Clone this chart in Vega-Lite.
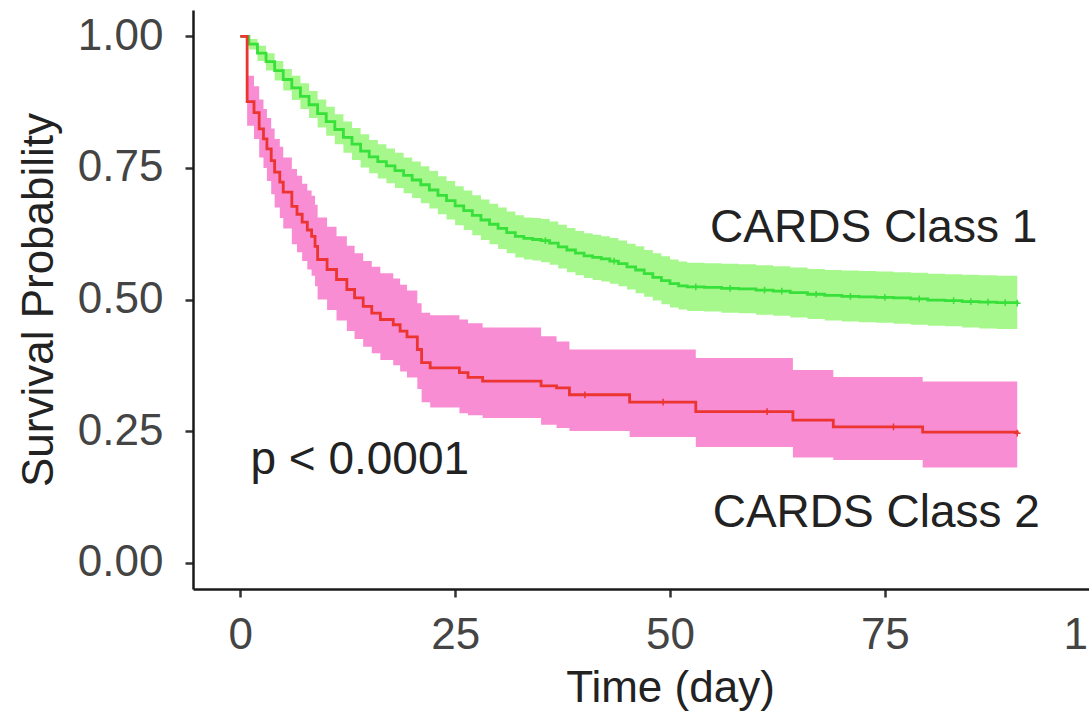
{
  "$schema": "https://vega.github.io/schema/vega-lite/v6.json",
  "width": 954,
  "height": 579,
  "autosize": {"type": "none"},
  "padding": {"left": 193, "top": 10, "right": 60, "bottom": 136},
  "background": "white",
  "config": {
    "view": {"stroke": null},
    "font": "Liberation Sans",
    "axis": {
      "grid": false,
      "domainColor": "#1a1a1a",
      "domainWidth": 2.5,
      "tickColor": "#333333",
      "tickWidth": 2.5,
      "tickSize": 8,
      "labelFont": "Liberation Sans",
      "labelFontSize": 44,
      "labelColor": "#444444",
      "titleFont": "Liberation Sans",
      "titleFontSize": 44,
      "titleFontWeight": "normal",
      "titleColor": "#222222"
    }
  },
  "datasets": {
    "km": [
      {"group": "Class 1", "t": 0, "s": 1.0, "lo": 1.0, "hi": 1.0},
      {"group": "Class 1", "t": 1, "s": 0.985, "lo": 0.975, "hi": 0.995},
      {"group": "Class 1", "t": 2, "s": 0.968, "lo": 0.953, "hi": 0.982},
      {"group": "Class 1", "t": 3, "s": 0.952, "lo": 0.935, "hi": 0.968},
      {"group": "Class 1", "t": 4, "s": 0.935, "lo": 0.916, "hi": 0.953},
      {"group": "Class 1", "t": 5, "s": 0.918, "lo": 0.897, "hi": 0.938},
      {"group": "Class 1", "t": 6, "s": 0.902, "lo": 0.879, "hi": 0.925},
      {"group": "Class 1", "t": 7, "s": 0.886, "lo": 0.862, "hi": 0.911},
      {"group": "Class 1", "t": 8, "s": 0.870, "lo": 0.845, "hi": 0.896},
      {"group": "Class 1", "t": 9, "s": 0.853, "lo": 0.827, "hi": 0.880},
      {"group": "Class 1", "t": 10, "s": 0.838, "lo": 0.811, "hi": 0.866},
      {"group": "Class 1", "t": 11, "s": 0.823, "lo": 0.795, "hi": 0.852},
      {"group": "Class 1", "t": 12, "s": 0.808, "lo": 0.779, "hi": 0.838},
      {"group": "Class 1", "t": 13, "s": 0.795, "lo": 0.765, "hi": 0.826},
      {"group": "Class 1", "t": 14, "s": 0.782, "lo": 0.751, "hi": 0.814},
      {"group": "Class 1", "t": 15, "s": 0.771, "lo": 0.740, "hi": 0.803},
      {"group": "Class 1", "t": 16, "s": 0.762, "lo": 0.730, "hi": 0.795},
      {"group": "Class 1", "t": 17, "s": 0.754, "lo": 0.721, "hi": 0.787},
      {"group": "Class 1", "t": 18, "s": 0.745, "lo": 0.712, "hi": 0.779},
      {"group": "Class 1", "t": 19, "s": 0.736, "lo": 0.702, "hi": 0.770},
      {"group": "Class 1", "t": 20, "s": 0.727, "lo": 0.693, "hi": 0.762},
      {"group": "Class 1", "t": 21, "s": 0.718, "lo": 0.683, "hi": 0.753},
      {"group": "Class 1", "t": 22, "s": 0.708, "lo": 0.673, "hi": 0.744},
      {"group": "Class 1", "t": 23, "s": 0.698, "lo": 0.662, "hi": 0.734},
      {"group": "Class 1", "t": 24, "s": 0.688, "lo": 0.652, "hi": 0.725},
      {"group": "Class 1", "t": 25, "s": 0.678, "lo": 0.641, "hi": 0.715},
      {"group": "Class 1", "t": 26, "s": 0.669, "lo": 0.632, "hi": 0.707},
      {"group": "Class 1", "t": 27, "s": 0.660, "lo": 0.622, "hi": 0.698},
      {"group": "Class 1", "t": 28, "s": 0.651, "lo": 0.613, "hi": 0.690},
      {"group": "Class 1", "t": 29, "s": 0.643, "lo": 0.605, "hi": 0.682},
      {"group": "Class 1", "t": 30, "s": 0.635, "lo": 0.596, "hi": 0.675},
      {"group": "Class 1", "t": 31, "s": 0.627, "lo": 0.588, "hi": 0.667},
      {"group": "Class 1", "t": 32, "s": 0.620, "lo": 0.580, "hi": 0.660},
      {"group": "Class 1", "t": 33, "s": 0.616, "lo": 0.576, "hi": 0.656},
      {"group": "Class 1", "t": 34, "s": 0.614, "lo": 0.574, "hi": 0.655},
      {"group": "Class 1", "t": 35, "s": 0.612, "lo": 0.571, "hi": 0.653},
      {"group": "Class 1", "t": 36, "s": 0.607, "lo": 0.566, "hi": 0.648},
      {"group": "Class 1", "t": 37, "s": 0.600, "lo": 0.559, "hi": 0.642},
      {"group": "Class 1", "t": 38, "s": 0.594, "lo": 0.552, "hi": 0.636},
      {"group": "Class 1", "t": 39, "s": 0.588, "lo": 0.546, "hi": 0.630},
      {"group": "Class 1", "t": 40, "s": 0.583, "lo": 0.541, "hi": 0.626},
      {"group": "Class 1", "t": 41, "s": 0.580, "lo": 0.537, "hi": 0.623},
      {"group": "Class 1", "t": 42, "s": 0.577, "lo": 0.534, "hi": 0.620},
      {"group": "Class 1", "t": 43, "s": 0.573, "lo": 0.530, "hi": 0.617},
      {"group": "Class 1", "t": 44, "s": 0.568, "lo": 0.525, "hi": 0.612},
      {"group": "Class 1", "t": 45, "s": 0.562, "lo": 0.519, "hi": 0.606},
      {"group": "Class 1", "t": 46, "s": 0.556, "lo": 0.512, "hi": 0.601},
      {"group": "Class 1", "t": 47, "s": 0.549, "lo": 0.505, "hi": 0.594},
      {"group": "Class 1", "t": 48, "s": 0.542, "lo": 0.498, "hi": 0.588},
      {"group": "Class 1", "t": 49, "s": 0.536, "lo": 0.491, "hi": 0.582},
      {"group": "Class 1", "t": 50, "s": 0.530, "lo": 0.485, "hi": 0.576},
      {"group": "Class 1", "t": 51, "s": 0.526, "lo": 0.481, "hi": 0.572},
      {"group": "Class 1", "t": 52, "s": 0.524, "lo": 0.478, "hi": 0.570},
      {"group": "Class 1", "t": 54, "s": 0.523, "lo": 0.477, "hi": 0.569},
      {"group": "Class 1", "t": 56, "s": 0.521, "lo": 0.475, "hi": 0.568},
      {"group": "Class 1", "t": 58, "s": 0.520, "lo": 0.474, "hi": 0.567},
      {"group": "Class 1", "t": 60, "s": 0.518, "lo": 0.471, "hi": 0.565},
      {"group": "Class 1", "t": 62, "s": 0.516, "lo": 0.469, "hi": 0.563},
      {"group": "Class 1", "t": 64, "s": 0.513, "lo": 0.466, "hi": 0.561},
      {"group": "Class 1", "t": 66, "s": 0.510, "lo": 0.463, "hi": 0.558},
      {"group": "Class 1", "t": 68, "s": 0.508, "lo": 0.460, "hi": 0.556},
      {"group": "Class 1", "t": 70, "s": 0.506, "lo": 0.458, "hi": 0.555},
      {"group": "Class 1", "t": 72, "s": 0.505, "lo": 0.457, "hi": 0.554},
      {"group": "Class 1", "t": 74, "s": 0.504, "lo": 0.456, "hi": 0.553},
      {"group": "Class 1", "t": 76, "s": 0.503, "lo": 0.454, "hi": 0.552},
      {"group": "Class 1", "t": 78, "s": 0.501, "lo": 0.452, "hi": 0.551},
      {"group": "Class 1", "t": 80, "s": 0.499, "lo": 0.450, "hi": 0.549},
      {"group": "Class 1", "t": 82, "s": 0.498, "lo": 0.449, "hi": 0.548},
      {"group": "Class 1", "t": 84, "s": 0.496, "lo": 0.447, "hi": 0.547},
      {"group": "Class 1", "t": 86, "s": 0.495, "lo": 0.445, "hi": 0.546},
      {"group": "Class 1", "t": 88, "s": 0.494, "lo": 0.444, "hi": 0.545},
      {"group": "Class 1", "t": 90.4, "s": 0.493, "lo": 0.443, "hi": 0.545},
      {"group": "Class 2", "t": 0, "s": 1.0, "lo": 1.0, "hi": 1.0},
      {"group": "Class 2", "t": 0.8, "s": 0.876, "lo": 0.830, "hi": 0.925},
      {"group": "Class 2", "t": 1.6, "s": 0.855, "lo": 0.805, "hi": 0.905},
      {"group": "Class 2", "t": 2.2, "s": 0.824, "lo": 0.770, "hi": 0.880},
      {"group": "Class 2", "t": 2.7, "s": 0.805, "lo": 0.750, "hi": 0.862},
      {"group": "Class 2", "t": 3.1, "s": 0.786, "lo": 0.725, "hi": 0.845},
      {"group": "Class 2", "t": 3.6, "s": 0.764, "lo": 0.700, "hi": 0.825},
      {"group": "Class 2", "t": 4.0, "s": 0.742, "lo": 0.675, "hi": 0.805},
      {"group": "Class 2", "t": 4.6, "s": 0.723, "lo": 0.655, "hi": 0.790},
      {"group": "Class 2", "t": 5.0, "s": 0.704, "lo": 0.635, "hi": 0.770},
      {"group": "Class 2", "t": 6.0, "s": 0.677, "lo": 0.605, "hi": 0.748},
      {"group": "Class 2", "t": 6.6, "s": 0.662, "lo": 0.590, "hi": 0.735},
      {"group": "Class 2", "t": 7.2, "s": 0.647, "lo": 0.573, "hi": 0.720},
      {"group": "Class 2", "t": 7.8, "s": 0.632, "lo": 0.557, "hi": 0.707},
      {"group": "Class 2", "t": 8.3, "s": 0.620, "lo": 0.545, "hi": 0.697},
      {"group": "Class 2", "t": 8.7, "s": 0.601, "lo": 0.525, "hi": 0.680},
      {"group": "Class 2", "t": 9.0, "s": 0.576, "lo": 0.500, "hi": 0.656},
      {"group": "Class 2", "t": 10.1, "s": 0.557, "lo": 0.480, "hi": 0.638},
      {"group": "Class 2", "t": 11.2, "s": 0.538, "lo": 0.460, "hi": 0.620},
      {"group": "Class 2", "t": 12.4, "s": 0.519, "lo": 0.440, "hi": 0.602},
      {"group": "Class 2", "t": 13.3, "s": 0.503, "lo": 0.425, "hi": 0.588},
      {"group": "Class 2", "t": 14.3, "s": 0.487, "lo": 0.410, "hi": 0.573},
      {"group": "Class 2", "t": 15.3, "s": 0.474, "lo": 0.398, "hi": 0.562},
      {"group": "Class 2", "t": 16.3, "s": 0.462, "lo": 0.385, "hi": 0.550},
      {"group": "Class 2", "t": 17.8, "s": 0.452, "lo": 0.375, "hi": 0.540},
      {"group": "Class 2", "t": 18.6, "s": 0.440, "lo": 0.363, "hi": 0.528},
      {"group": "Class 2", "t": 19.4, "s": 0.429, "lo": 0.352, "hi": 0.517},
      {"group": "Class 2", "t": 20.6, "s": 0.405, "lo": 0.330, "hi": 0.493},
      {"group": "Class 2", "t": 21.1, "s": 0.380, "lo": 0.305, "hi": 0.475},
      {"group": "Class 2", "t": 22.1, "s": 0.370, "lo": 0.295, "hi": 0.470},
      {"group": "Class 2", "t": 25.5, "s": 0.361, "lo": 0.284, "hi": 0.462},
      {"group": "Class 2", "t": 26.5, "s": 0.352, "lo": 0.280, "hi": 0.455},
      {"group": "Class 2", "t": 28.2, "s": 0.345, "lo": 0.275, "hi": 0.447},
      {"group": "Class 2", "t": 35.0, "s": 0.336, "lo": 0.262, "hi": 0.430},
      {"group": "Class 2", "t": 36.8, "s": 0.332, "lo": 0.256, "hi": 0.420},
      {"group": "Class 2", "t": 38.3, "s": 0.319, "lo": 0.250, "hi": 0.405},
      {"group": "Class 2", "t": 45.3, "s": 0.305, "lo": 0.239, "hi": 0.405},
      {"group": "Class 2", "t": 53.0, "s": 0.287, "lo": 0.220, "hi": 0.389},
      {"group": "Class 2", "t": 64.3, "s": 0.271, "lo": 0.200, "hi": 0.366},
      {"group": "Class 2", "t": 69.0, "s": 0.258, "lo": 0.195, "hi": 0.353},
      {"group": "Class 2", "t": 79.4, "s": 0.248, "lo": 0.181, "hi": 0.344},
      {"group": "Class 2", "t": 90.4, "s": 0.246, "lo": 0.181, "hi": 0.344}
    ],
    "censor": [
      {"group": "Class 1", "t": 35.5, "s": 0.612},
      {"group": "Class 1", "t": 43.5, "s": 0.573},
      {"group": "Class 1", "t": 53, "s": 0.524},
      {"group": "Class 1", "t": 57, "s": 0.521},
      {"group": "Class 1", "t": 61, "s": 0.518},
      {"group": "Class 1", "t": 63, "s": 0.516},
      {"group": "Class 1", "t": 67, "s": 0.510},
      {"group": "Class 1", "t": 71, "s": 0.506},
      {"group": "Class 1", "t": 75, "s": 0.504},
      {"group": "Class 1", "t": 79, "s": 0.501},
      {"group": "Class 1", "t": 83, "s": 0.498},
      {"group": "Class 1", "t": 85, "s": 0.496},
      {"group": "Class 1", "t": 87, "s": 0.495},
      {"group": "Class 1", "t": 89, "s": 0.494},
      {"group": "Class 1", "t": 90.4, "s": 0.493},
      {"group": "Class 2", "t": 40.1, "s": 0.319},
      {"group": "Class 2", "t": 49.2, "s": 0.305},
      {"group": "Class 2", "t": 61.3, "s": 0.287},
      {"group": "Class 2", "t": 76.0, "s": 0.258},
      {"group": "Class 2", "t": 90.4, "s": 0.246}
    ],
    "labels": [
      {"label": "CARDS Class 1", "t": 73.7, "s": 0.636},
      {"label": "CARDS Class 2", "t": 74.0, "s": 0.094},
      {"label": "p < 0.0001", "t": 13.9, "s": 0.195}
    ]
  },
  "encoding": {
    "x": {
      "field": "t",
      "type": "quantitative",
      "scale": {"domain": [-5.5, 105.5], "nice": false, "zero": false},
      "axis": {
        "values": [0, 25, 50, 75, 100],
        "title": "Time (day)",
        "labelFlush": false,
        "labelPadding": 16,
        "titlePadding": 9
      }
    },
    "y": {
      "field": "s",
      "type": "quantitative",
      "scale": {"domain": [-0.05, 1.05], "nice": false, "zero": false},
      "axis": {
        "values": [0, 0.25, 0.5, 0.75, 1],
        "format": ".2f",
        "title": "Survival Probability",
        "labelPadding": 22,
        "titlePadding": 16
      }
    }
  },
  "layer": [
    {
      "data": {"name": "km"},
      "mark": {"type": "area", "interpolate": "step-after"},
      "encoding": {
        "y": {"field": "lo", "type": "quantitative"},
        "y2": {"field": "hi"},
        "fill": {
          "field": "group",
          "type": "nominal",
          "scale": {"domain": ["Class 1", "Class 2"], "range": ["#a6f78c", "#f98dd3"]},
          "legend": null
        }
      }
    },
    {
      "data": {"name": "km"},
      "mark": {"type": "line", "interpolate": "step-after", "strokeWidth": 2.8},
      "encoding": {
        "stroke": {
          "field": "group",
          "type": "nominal",
          "scale": {"domain": ["Class 1", "Class 2"], "range": ["#38e03a", "#ec3430"]},
          "legend": null
        }
      }
    },
    {
      "data": {"name": "censor"},
      "mark": {"type": "point", "shape": "M-1,0L1,0M0,-1L0,1", "filled": false, "size": 45, "strokeWidth": 1.5, "opacity": 1},
      "encoding": {
        "stroke": {"field": "group", "type": "nominal", "legend": null}
      }
    },
    {
      "data": {"name": "labels"},
      "mark": {"type": "text", "fontSize": 46, "font": "Liberation Sans", "color": "#222222", "align": "center", "baseline": "middle"},
      "encoding": {
        "text": {"field": "label", "type": "nominal"}
      }
    }
  ]
}
